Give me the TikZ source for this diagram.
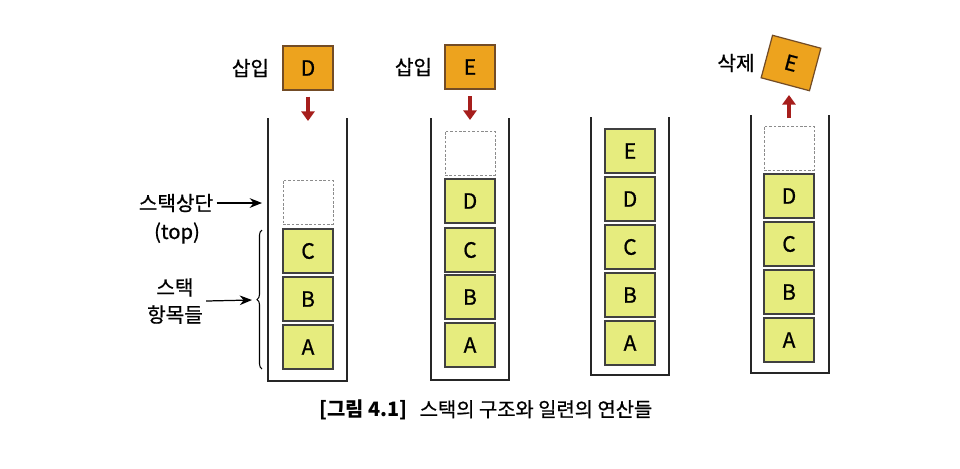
\documentclass[tikz,border=0pt]{standalone}
\usepackage{fontspec}
\setmainfont{Noto Sans CJK KR}
\newfontfamily\medfont{Noto Sans CJK KR}[FakeBold=0.8]
\usetikzlibrary{arrows.meta,positioning,decorations.pathreplacing}
\definecolor{itemyellow}{HTML}{E6EC7E}
\definecolor{neworange}{HTML}{EDA31E}
\definecolor{arrowred}{HTML}{A61E1C}
\tikzset{
  item/.style={draw=black!75, line width=0.7pt, fill=itemyellow, minimum width=1cm,
    minimum height=0.88cm, inner sep=0pt, font=\medfont\fontsize{12}{14}\selectfont},
  newitem/.style={item, fill=neworange, draw=brown!60!black},
  slot/.style={draw=black!45, dashed, dash pattern=on 1.5pt off 1pt, line width=0.5pt,
    minimum width=1cm, minimum height=0.88cm, inner sep=0pt},
  wall/.style={draw=black!85, line width=1.1pt},
  pusharrow/.style={draw=arrowred, line width=2.8pt, -{Triangle[width=7.5pt,length=5.5pt]}},
  lbl/.style={inner sep=0pt, font=\medfont\fontsize{11.5}{15.5}\selectfont},
  ptr/.style={draw, line width=0.7pt, -{Stealth[length=7pt,width=5.5pt]}}
}
\begin{document}
\begin{tikzpicture}[x=0.02cm, y=-0.02cm]
\useasboundingbox (0,0) rectangle (960,468);

%stack 1: push D
\draw[wall] (268,118) -- (268,381) -- (347,381) -- (347,118);
\foreach \l/\y in {A/347,B/299,C/251}
  \node[item] (s1\l) at (308,\y) {\l};
\node[slot] (s1top) at (308,202) {};
\node[newitem] (d1) at (308,68) {D};
\node[lbl, left=0.26cm of d1] (ins1) {삽입};
\coordinate (s1in) at (308,121);
\draw[pusharrow, shorten <=0.12cm] (d1) -- (s1in);

%labels
\node[lbl] (toplbl) at (176,203) {스택상단};
\node[lbl] (topparen) at (177,233) {(top)};
\coordinate (topptr) at (262,203);
\draw[ptr] ([xshift=0.06cm]toplbl.east) -- (topptr);
\node[lbl, align=center] (itemlbl) at (175,301) {스택\\항목들};
\coordinate (itemptr) at (252,300);
\draw[ptr] ([xshift=0.06cm]itemlbl.east) -- (itemptr);
\draw[line width=0.6pt, decorate, decoration={brace, amplitude=0.1cm}] (262,369) -- (262,230);

%stack 2: push E
\draw[wall] (431,118) -- (431,380) -- (509,380) -- (509,118);
\foreach \l/\y in {A/345,B/297,C/250,D/201}
  \node[item] (s2\l) at (470,\y) {\l};
\node[slot] (s2top) at (470,153) {};
\node[newitem] (e2) at (470,67) {E};
\node[lbl, left=0.24cm of e2] (ins2) {삽입};
\coordinate (s2in) at (470,120);
\draw[pusharrow, shorten <=0.13cm] (e2) -- (s2in);

%stack 3: after push
\draw[wall] (591,117) -- (591,375) -- (669,375) -- (669,117);
\foreach \l/\y in {A/343,B/295,C/247,D/199,E/151}
  \node[item] (s3\l) at (630,\y) {\l};

%stack 4: pop E
\draw[wall] (751,115) -- (751,373) -- (829,373) -- (829,115);
\foreach \l/\y in {A/340,B/292,C/244,D/196}
  \node[item] (s4\l) at (789,\y) {\l};
\node[slot] (s4top) at (789,148) {};
\node[newitem, rotate=-15] (e4) at (791,63) {E};
\node[lbl] (del4) at (736,63) {삭제};
\coordinate (s4out) at (789,118);
\coordinate (s4tip) at (789,95);
\draw[pusharrow] (s4out) -- (s4tip);

%caption
\node[font=\fontsize{11.3}{13}\selectfont] (cap) at (486,410)
  {\textbf{[그림 4.1]}\hspace{0.6em}{\medfont 스택의 구조와 일련의 연산들}};
\end{tikzpicture}
\end{document}
